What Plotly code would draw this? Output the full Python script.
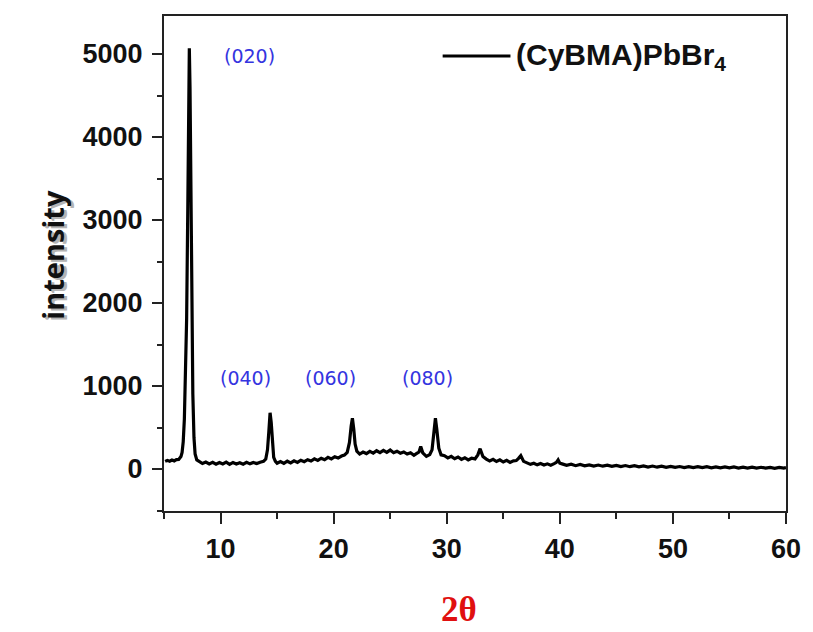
import plotly.graph_objects as go

# XRD pattern of (CyBMA)PbBr4: 2-theta (deg) and intensity (counts)
two_theta = [
    5.1, 5.3, 5.5, 5.7, 5.9, 6.1, 6.3, 6.5,
    6.6, 6.7, 6.8, 6.9, 7.0, 7.1, 7.18, 7.24, 7.3, 7.38, 7.46, 7.55, 7.65, 7.75, 7.9,
    8.1, 8.4, 8.7, 9.0, 9.3, 9.6, 9.9, 10.2, 10.5, 10.8, 11.1, 11.4, 11.7, 12.0,
    12.3, 12.6, 12.9, 13.2, 13.5, 13.8,
    14.0, 14.15, 14.27, 14.38, 14.48, 14.58, 14.7, 14.85,
    15.0, 15.3, 15.6, 15.9, 16.2, 16.5, 16.8, 17.1, 17.4, 17.7, 18.0, 18.3, 18.6,
    18.9, 19.2, 19.5, 19.8, 20.1, 20.4, 20.7, 20.95,
    21.2, 21.4, 21.55, 21.66, 21.78, 21.9, 22.05,
    22.3, 22.6, 22.9, 23.2, 23.5, 23.8, 24.1, 24.4, 24.7, 25.0, 25.3, 25.6, 25.9,
    26.2, 26.5, 26.8, 27.1, 27.35,
    27.55, 27.7, 27.88, 28.2, 28.5, 28.7, 28.85, 29.0, 29.12, 29.3, 29.5,
    29.8, 30.1, 30.4, 30.7, 31.0, 31.3, 31.6, 31.9, 32.2, 32.5, 32.75, 32.95, 33.2,
    33.5, 33.8, 34.1, 34.4, 34.7, 35.0, 35.3, 35.6, 35.9, 36.15, 36.35, 36.55, 36.8,
    37.1, 37.4, 37.7, 38.0, 38.3, 38.6, 38.9, 39.2, 39.5, 39.7, 39.85, 40.0,
    40.2, 40.6, 41.0, 41.4, 41.8, 42.2, 42.6, 43.0, 43.4, 43.8, 44.2, 44.6, 45.0,
    45.4, 45.8, 46.2, 46.6, 47.0, 47.4, 47.8, 48.2, 48.6, 49.0, 49.4, 49.8, 50.2,
    50.6, 51.0, 51.4, 51.8, 52.2, 52.6, 53.0, 53.4, 53.8, 54.2, 54.6, 55.0, 55.4,
    55.8, 56.2, 56.6, 57.0, 57.4, 57.8, 58.2, 58.6, 59.0, 59.4, 59.8, 60.0,
]
intensity = [
    92, 104, 94, 108, 98, 114, 116, 150,
    200, 330, 600, 1050, 1800, 3100, 4500, 5070, 4600, 3300, 1900, 900, 380, 180, 110,
    88, 66, 84, 62, 80, 58, 78, 60, 82, 56, 79, 61, 76, 58,
    80, 62, 78, 66, 82, 92,
    120, 230, 450, 678, 560, 300, 140, 92,
    70, 90, 68, 94, 74, 98, 80, 106, 88, 112, 96, 122, 104,
    130, 112, 140, 122, 148, 132, 156, 168,
    200, 320, 520, 611, 480, 300, 215,
    180, 204, 186, 212, 192, 220, 198, 224, 200, 228, 196, 214, 190,
    206, 180, 196, 166, 188,
    205, 270, 195, 152, 174, 230, 450, 611, 480, 250, 170,
    160, 134, 152, 124, 144, 116, 136, 110, 130, 122, 170, 245, 150,
    120, 96, 116, 90, 110, 84, 104, 80, 98, 102, 128, 160, 92,
    76, 56, 70, 50, 66, 48, 62, 46, 64, 80, 110, 70,
    62, 44, 58, 40, 54, 38, 50, 36, 48, 34, 46, 32, 44,
    30, 42, 28, 40, 26, 38, 24, 36, 22, 34, 21, 32, 20,
    30, 18, 29, 17, 28, 16, 27, 15, 26, 14, 25, 13, 24,
    12, 23, 11, 22, 10, 21, 10, 20, 9, 19, 10, 16,
]

# Reflection indices and where their labels sit (2-theta, intensity)
peak_labels = ["(020)", "(040)", "(060)", "(080)"]
label_x = [12.56, 12.2, 19.73, 28.3]
label_y = [4976, 1096, 1096, 1096]

series_name = "(CyBMA)PbBr<sub>4</sub>"

fig = go.Figure()
fig.add_trace(go.Scatter(
    x=two_theta, y=intensity, mode="lines",
    line=dict(color="#000000", width=3.2),
    name=series_name, showlegend=False,
))

for txt, lx, ly in zip(peak_labels, label_x, label_y):
    fig.add_annotation(
        x=lx, y=ly, text=txt, showarrow=False,
        font=dict(family="DejaVu Sans", size=19, color="#3434e0"),
        xanchor="center", yanchor="middle",
    )

# Legend drawn as a line sample plus bold label
fig.add_shape(type="line", xref="paper", yref="paper",
              x0=0.448, x1=0.557, y0=0.919, y1=0.919,
              line=dict(color="#000000", width=3))
fig.add_annotation(
    xref="paper", yref="paper", x=0.563, y=0.919, text=series_name,
    showarrow=False, xanchor="left", yanchor="middle",
    font=dict(family="Liberation Sans", size=30, color="#111111", weight="bold"),
)

# Axis titles
fig.add_annotation(
    xref="paper", yref="paper", x=-0.2137, y=0.517, text="intensity",
    showarrow=False, textangle=-90, xshift=3, yshift=-2,
    font=dict(family="Open Sans", size=29, color="#b4b4b4", weight="bold"),
)
fig.add_annotation(
    xref="paper", yref="paper", x=-0.2137, y=0.517, text="intensity",
    showarrow=False, textangle=-90,
    font=dict(family="Open Sans", size=29, color="#111111", weight="bold"),
)
fig.add_annotation(
    xref="paper", yref="paper", x=0.4737, y=-0.198, text="2θ",
    showarrow=False, xanchor="center", yanchor="middle",
    font=dict(family="Liberation Serif", size=35, color="#e01010", weight="bold"),
)

tick_font = dict(family="Liberation Sans", size=27, color="#111111", weight="bold")

fig.update_xaxes(
    range=[5, 60], tick0=0, dtick=10, ticks="outside", ticklen=11, tickwidth=2,
    tickcolor="#222222", showline=True, linewidth=2, linecolor="#222222",
    mirror=True, showgrid=False, zeroline=False, tickfont=tick_font,
    ticklabelstandoff=2,
    minor=dict(dtick=5, tick0=0, ticks="outside", ticklen=6, tickwidth=2,
               tickcolor="#222222", showgrid=False),
)
fig.update_yaxes(
    range=[-506, 5458], tick0=0, dtick=1000, ticks="outside", ticklen=10,
    tickwidth=2, tickcolor="#222222", showline=True, linewidth=2,
    linecolor="#222222", mirror=True, showgrid=False, zeroline=False,
    tickfont=tick_font, ticklabelstandoff=4,
    minor=dict(dtick=500, tick0=0, ticks="outside", ticklen=5, tickwidth=2,
               tickcolor="#222222", showgrid=False),
)

fig.update_layout(
    width=813, height=632,
    margin=dict(l=164, r=22, t=16, b=121),
    paper_bgcolor="white", plot_bgcolor="white",
)

fig.write_html("out.html")
